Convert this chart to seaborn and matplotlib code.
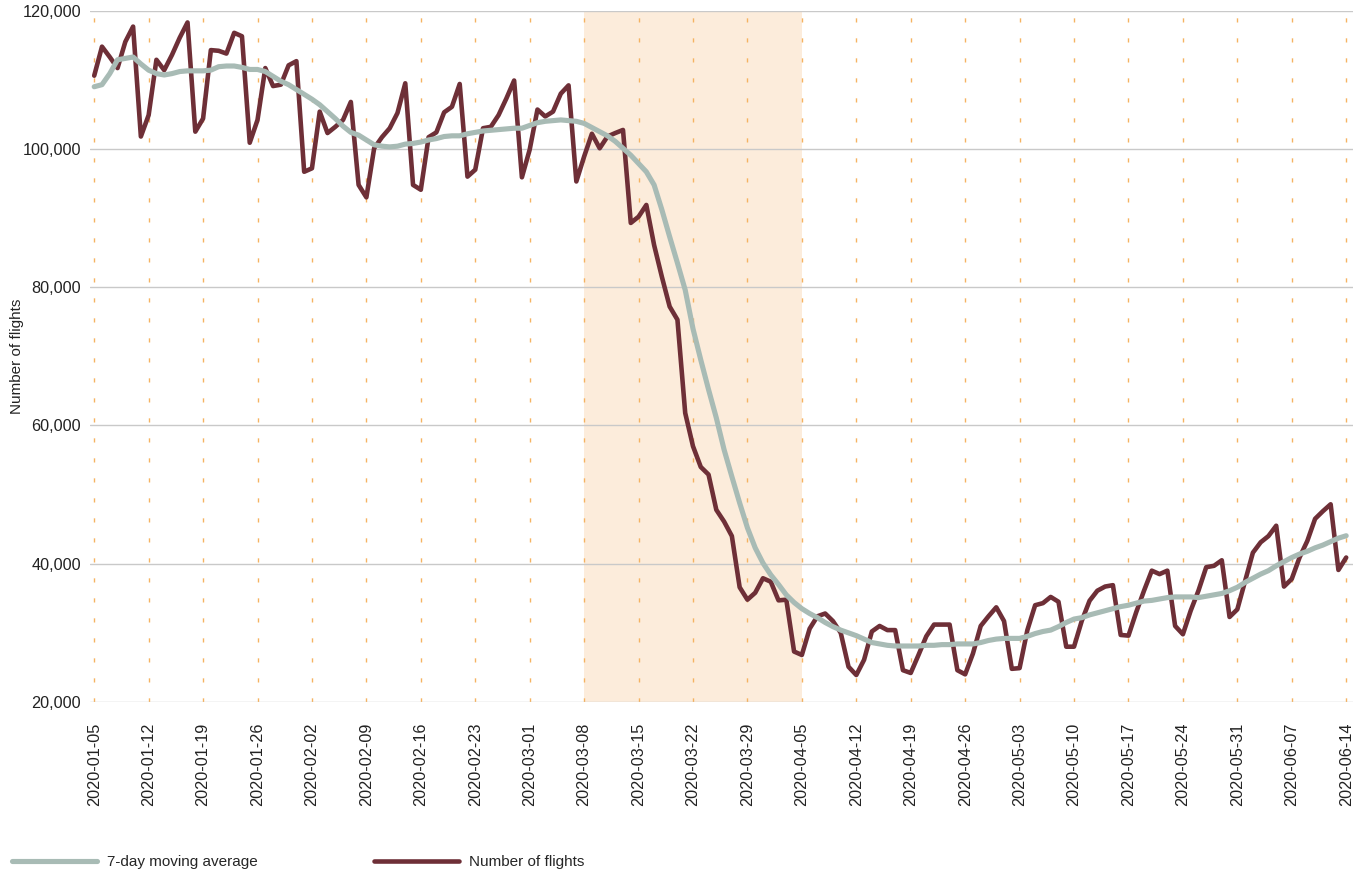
import numpy as np
import pandas as pd
import matplotlib
matplotlib.use("Agg")
import matplotlib.pyplot as plt
import matplotlib.dates as mdates
from matplotlib.ticker import FuncFormatter
import seaborn as sns

# daily flights, Jan 5 - Jun 14 2020 (in thousands)
dates = pd.date_range("2020-01-05", "2020-06-14", freq="D")

flights_k = [
    110.6, 114.8, 113.3, 111.7, 115.5, 117.7, 101.8, 104.9, 112.9, 111.4,
    113.6, 116.1, 118.3, 102.5, 104.4, 114.3, 114.2, 113.8, 116.8, 116.3,
    100.9, 104.2, 111.7, 109.1, 109.3, 112.1, 112.7, 96.7,
    97.2, 105.4, 102.3, 103.2, 104.2, 106.8, 94.8, 93.0, 100.1, 101.7,
    103.0, 105.2, 109.5, 94.8, 94.1, 101.7, 102.4, 105.3, 106.1, 109.4,
    96.0, 97.0, 103.0, 103.2, 104.9, 107.3, 109.9, 95.9, 99.9, 105.7,
    104.7, 105.4, 108.0, 109.2, 95.3,
    98.9, 102.2, 100.1, 101.8, 102.3, 102.75, 89.3, 90.2, 91.9, 86.1,
    81.5, 77.2, 75.3, 61.8, 57.0, 54.0, 52.9, 47.8, 46.1, 44.0,
    36.6, 34.8, 35.8, 37.9, 37.4, 34.7, 34.8, 27.3, 26.8, 30.6, 32.4,
    32.8, 31.7, 30.0, 25.1, 23.9, 26.1, 30.2, 31.0, 30.4, 30.4,
    24.6, 24.2, 26.8, 29.5, 31.2, 31.2, 31.2, 24.6, 24.0, 27.0,
    31.0, 32.4, 33.7, 31.7, 24.8, 24.9, 30.4, 34.0, 34.3, 35.2, 34.5, 28.0,
    28.0, 31.75, 34.65, 36.1, 36.7, 36.9, 29.7, 29.6, 33.0, 36.1,
    39.0, 38.5, 39.0, 31.0, 29.8, 33.2, 36.1, 39.5, 39.7, 40.5,
    32.3, 33.4, 37.5, 41.6, 43.1, 44.0, 45.5, 36.7, 37.8, 40.9,
    43.3, 46.5, 47.6, 48.6, 39.1, 40.9,
]

moving_avg_k = [
    109.0, 109.3, 110.9, 112.9, 113.1, 113.3, 112.3, 111.4, 110.9, 110.7,
    110.9, 111.2, 111.3, 111.3, 111.3, 111.4, 111.9, 112.0, 112.0, 111.8,
    111.5, 111.5, 111.2, 110.5, 109.8, 109.3, 108.6, 107.9,
    107.2, 106.4, 105.4, 104.4, 103.3, 102.4, 102.0, 101.3, 100.6, 100.4,
    100.3, 100.4, 100.7, 100.8, 101.0, 101.3, 101.5, 101.8, 101.9, 101.9,
    102.2, 102.4, 102.6, 102.7, 102.8, 102.9, 103.0, 103.0, 103.4, 103.8,
    104.0, 104.1, 104.2, 104.1, 104.0,
    103.7, 103.1, 102.5, 101.9, 101.1, 100.1, 99.1, 97.9, 96.7, 94.8,
    91.2, 87.3, 83.5, 79.6, 74.0, 69.5, 65.2, 61.1, 56.5, 52.6,
    48.8, 45.2, 42.3, 40.1, 38.4, 37.0, 35.5, 34.4, 33.5, 32.8, 32.2,
    31.5, 30.9, 30.4, 30.0, 29.6, 29.1, 28.6, 28.4, 28.2, 28.1,
    28.1, 28.1, 28.1, 28.2, 28.2, 28.3, 28.3, 28.4, 28.4, 28.4,
    28.6, 28.9, 29.1, 29.2, 29.2, 29.2, 29.5, 29.9, 30.2, 30.4, 30.9, 31.5,
    32.0, 32.2, 32.6, 32.9, 33.2, 33.5, 33.8, 34.0, 34.3, 34.6,
    34.7, 34.9, 35.1, 35.2, 35.2, 35.2, 35.1, 35.3, 35.5, 35.7,
    36.1, 36.6, 37.3, 37.9, 38.5, 39.0, 39.7, 40.3, 40.9, 41.4,
    41.8, 42.3, 42.7, 43.2, 43.7, 44.05,
]

y_ticks = [20000, 40000, 60000, 80000, 100000, 120000]
lockdown_start = "2020-03-08"
lockdown_end = "2020-04-05"

RED = "#6E2F37"
GREEN = "#A8BBB5"
SHADE = "#FCECDB"
ORANGE = "#F5B361"
GRID = "#C9C9C9"

df = pd.DataFrame({
    "date": dates,
    "Number of flights": np.array(flights_k) * 1000,
    "7-day moving average": np.array(moving_avg_k) * 1000,
})

sns.set_theme(style="white")
plt.rcParams["font.family"] = ["Liberation Sans", "DejaVu Sans"]

fig = plt.figure(figsize=(13.64, 8.74), dpi=100)
ax = fig.add_axes([90 / 1364, 172 / 874, 1263 / 1364, 691.3 / 874])

ax.axvspan(pd.Timestamp(lockdown_start), pd.Timestamp(lockdown_end),
           color=SHADE, lw=0, zorder=0.2)

sns.lineplot(data=df, x="date", y="Number of flights", color=RED, lw=3.3,
             label="Number of flights", ax=ax, zorder=3)
sns.lineplot(data=df, x="date", y="7-day moving average", color=GREEN, lw=3.7,
             label="7-day moving average", ax=ax, zorder=4,
             solid_capstyle="round")

ax.set_ylim(20000, 120000)
ax.set_yticks(y_ticks)
ax.yaxis.set_major_formatter(FuncFormatter(lambda v, p: f"{v:,.0f}"))
ax.set_xlim(dates[0] - pd.Timedelta(hours=13), dates[-1] + pd.Timedelta(hours=21))
ax.xaxis.set_major_locator(mdates.WeekdayLocator(byweekday=mdates.SU))
ax.xaxis.set_major_formatter(mdates.DateFormatter("%Y-%m-%d"))

ax.tick_params(axis="x", rotation=90, length=0, pad=15, labelsize=11.7, labelcolor="#222222")
ax.tick_params(axis="y", length=0, pad=6.5, labelsize=11.7, labelcolor="#222222")

ax.yaxis.grid(True, color=GRID, lw=1)
ax.xaxis.grid(True, color=ORANGE, lw=1, linestyle=(0, (3, 11.4)))
ax.set_axisbelow(True)
sns.despine(ax=ax, left=True, bottom=True)

ax.set_xlabel("")
ax.set_ylabel("Number of flights", fontsize=11, color="#222222")
ax.yaxis.set_label_coords(-0.052, 0.5)

# legend along the bottom, moving average first
handles, labels = ax.get_legend_handles_labels()
ax.legend_.remove()
order = [labels.index("7-day moving average"), labels.index("Number of flights")]
fig.legend([handles[i] for i in order], [labels[i] for i in order],
           loc="center left", bbox_to_anchor=(12 / 1364, 12 / 874), ncol=2,
           frameon=False, fontsize=11, handlelength=5.56, handletextpad=0.65,
           columnspacing=7.6, borderpad=0, borderaxespad=0)

fig.savefig("out.png", dpi=100)
